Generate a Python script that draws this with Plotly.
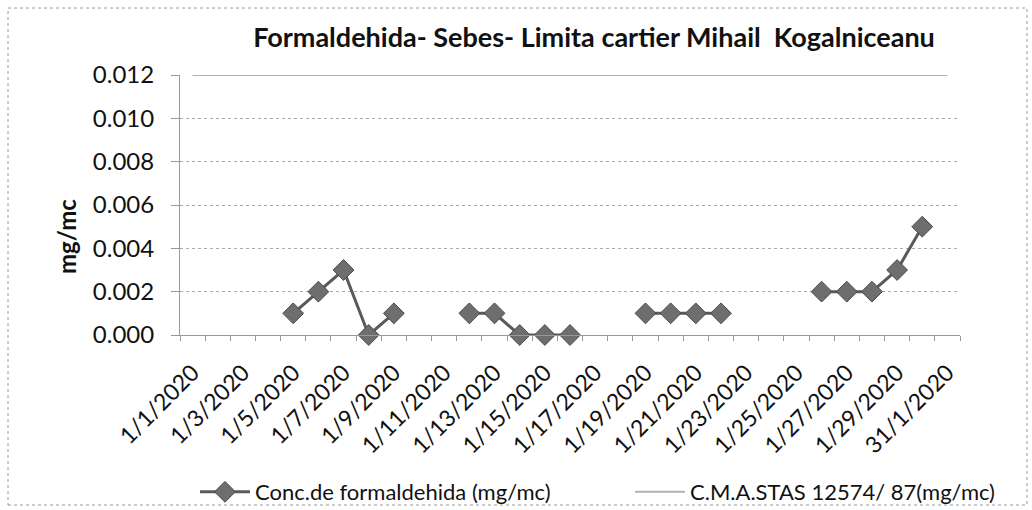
import plotly.graph_objects as go

dates = ["1/1/2020", "1/2/2020", "1/3/2020", "1/4/2020", "1/5/2020", "1/6/2020", "1/7/2020",
         "1/8/2020", "1/9/2020", "1/10/2020", "1/11/2020", "1/12/2020", "1/13/2020", "1/14/2020",
         "1/15/2020", "1/16/2020", "1/17/2020", "1/18/2020", "1/19/2020", "1/20/2020", "1/21/2020",
         "1/22/2020", "1/23/2020", "1/24/2020", "1/25/2020", "1/26/2020", "1/27/2020", "1/28/2020",
         "1/29/2020", "1/30/2020", "31/1/2020"]

conc = [None, None, None, None, 0.001, 0.002, 0.003, 0.000, 0.001, None, None,
        0.001, 0.001, 0.000, 0.000, 0.000, None, None, 0.001, 0.001, 0.001, 0.001,
        None, None, None, 0.002, 0.002, 0.002, 0.003, 0.005, None]

cma = [0.012, 0.012, 0.012, 0.012, 0.012, 0.012, 0.012, 0.012, 0.012, 0.012, 0.012,
       0.012, 0.012, 0.012, 0.012, 0.012, 0.012, 0.012, 0.012, 0.012, 0.012, 0.012,
       0.012, 0.012, 0.012, 0.012, 0.012, 0.012, 0.012, 0.012, 0.012]

y_ticks = [0.000, 0.002, 0.004, 0.006, 0.008, 0.010, 0.012]

x_idx = list(range(len(dates)))
label_idx = x_idx[::2]
label_txt = [dates[i] for i in label_idx]

FONT = "Lato, 'Open Sans', sans-serif"

fig = go.Figure()
fig.add_trace(go.Scatter(
    x=x_idx, y=conc, mode="lines+markers", name="Conc.de formaldehida (mg/mc)",
    line=dict(color="#5a5a5a", width=3),
    marker=dict(symbol="diamond", size=16, color="#6e6e6e", line=dict(color="#4a4a4a", width=1)),
    connectgaps=False, cliponaxis=False, legend="legend",
))
fig.add_trace(go.Scatter(
    x=x_idx, y=cma, mode="lines", name="C.M.A.STAS 12574/ 87(mg/mc)",
    line=dict(color="#b0b0b0", width=2), cliponaxis=False, legend="legend2",
))

L, R, T, B = 180, 960, 75, 335
W, H = 1032, 510
pw, ph = R - L, B - T

fig.add_shape(type="rect", xref="paper", yref="paper",
              x0=(8 - L) / pw, x1=(1027 - L) / pw,
              y0=(B - 505) / ph, y1=(B - 8) / ph,
              line=dict(color="#9a9a9a", width=1, dash="dot"), layer="below")

fig.add_annotation(text="<b>mg/mc</b>", textangle=-90, showarrow=False,
                   xref="paper", yref="paper",
                   x=(66 - L) / pw, y=(B - 237) / ph,
                   xanchor="center", yanchor="middle",
                   font=dict(size=24, family=FONT, color="#111111"))

leg_common = dict(orientation="h", xref="paper", xanchor="left",
                  y=(B - 492) / ph, yanchor="middle",
                  font=dict(size=22, family=FONT, color="#111111"),
                  itemwidth=50, bgcolor="rgba(0,0,0,0)")

fig.update_layout(
    width=W, height=H,
    margin=dict(l=L, r=W - R, t=T, b=H - B, autoexpand=False),
    paper_bgcolor="white", plot_bgcolor="white",
    font=dict(family=FONT, color="#111111", size=18),
    title=dict(text="<b>Formaldehida- Sebes- Limita cartier Mihail  Kogalniceanu</b>",
               x=(594 - L) / pw, xref="paper", xanchor="center",
               y=1 - 38 / H, yanchor="middle", font=dict(size=27, family=FONT)),
    xaxis=dict(
        range=[-0.5, 30.5], tickmode="array", tickvals=label_idx, ticktext=label_txt,
        tickangle=-45, ticks="", showgrid=False, zeroline=False, automargin=False,
        showline=True, linecolor="#999999", linewidth=1, ticklabelstandoff=14,
        tickfont=dict(size=23, family=FONT),
        minor=dict(ticks="outside", ticklen=5, tickcolor="#999999", tick0=-0.5, dtick=1, showgrid=False),
    ),
    yaxis=dict(
        range=[0, 0.012], tickmode="array", tickvals=y_ticks,
        ticktext=[f"{v:.3f}" for v in y_ticks],
        ticks="outside", ticklen=8, tickcolor="#999999", automargin=False,
        showgrid=True, gridcolor="#aaaaaa", griddash="dot", gridwidth=1,
        zeroline=False, showline=True, linecolor="#999999", linewidth=1,
        tickfont=dict(size=24, family=FONT), ticklabelstandoff=12,
    ),
    legend=dict(x=(195 - L) / pw, **leg_common),
    legend2=dict(x=(630 - L) / pw, **leg_common),
    showlegend=True,
)

fig.write_html("out.html", config={"displayModeBar": False},
               post_script="document.body.style.margin='0px';")
